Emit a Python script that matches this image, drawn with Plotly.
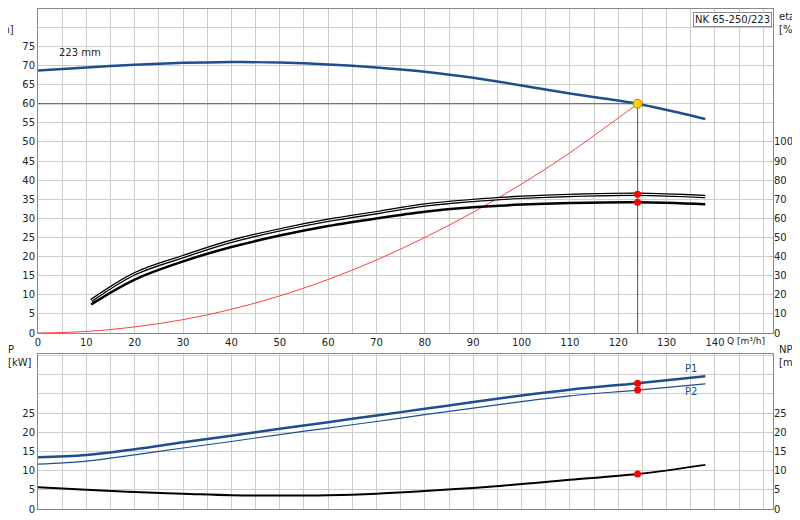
import plotly.graph_objects as go

# head curve, 223 mm impeller
q_h = [0, 10, 20, 30, 40, 50, 60, 70, 80, 90, 100, 110, 117, 124, 131, 138]
h = [68.7, 69.5, 70.2, 70.7, 70.9, 70.8, 70.3, 69.5, 68.4, 66.8, 64.8, 62.7, 61.4, 60.0, 58.1, 56.0]

# system curve (red)
q_sys = [0, 10, 20, 30, 40, 50, 60, 70, 80, 90, 100, 110, 124]
h_sys = [0, 0.4, 1.6, 3.5, 6.2, 9.7, 14.0, 19.1, 25.0, 31.6, 39.0, 47.2, 60.0]

# efficiency curves [%]
q_eta = [11, 20, 30, 40, 50, 60, 70, 80, 90, 100, 110, 124, 138]
eta_1 = [17, 31, 40, 48, 54, 59, 63, 67, 69.4, 71, 72, 72.6, 71.4]
eta_2 = [15, 28, 37.5, 45, 51, 56, 60, 63.5, 65.8, 67.2, 68, 68.4, 67.4]

# power and NPSH
q_p = [0, 10, 20, 30, 40, 50, 60, 70, 80, 90, 100, 110, 124, 138]
p1 = [13.5, 14.1, 15.6, 17.4, 19.1, 20.9, 22.6, 24.4, 26.1, 27.9, 29.6, 31.1, 32.8, 34.6]
p2 = [11.7, 12.5, 14.1, 15.9, 17.6, 19.4, 21.1, 22.8, 24.6, 26.3, 28.0, 29.5, 31.0, 32.6]
npsh = [5.7, 5.0, 4.4, 4.0, 3.6, 3.5, 3.6, 4.0, 4.7, 5.5, 6.5, 7.6, 9.1, 11.5]

q_op = 124
blue = "#1f4e8c"
fig = go.Figure()

fig.add_trace(go.Scatter(x=[0, q_op, q_op], y=[60, 60, 0], mode="lines",
                         line=dict(color="#555", width=1), xaxis="x", yaxis="y"))
fig.add_trace(go.Scatter(x=q_sys, y=h_sys, mode="lines", line=dict(color="#ff4040", width=1, shape="spline"),
                         xaxis="x", yaxis="y"))
fig.add_trace(go.Scatter(x=q_h, y=h, mode="lines", line=dict(color=blue, width=2.5, shape="spline", smoothing=0.6),
                         xaxis="x", yaxis="y"))
fig.add_trace(go.Scatter(x=q_eta, y=eta_1, mode="lines", line=dict(color="black", width=3.5, shape="spline"),
                         xaxis="x", yaxis="y2"))
fig.add_trace(go.Scatter(x=q_eta, y=eta_1, mode="lines", line=dict(color="white", width=1, shape="spline"),
                         xaxis="x", yaxis="y2"))
fig.add_trace(go.Scatter(x=q_eta, y=eta_2, mode="lines", line=dict(color="black", width=2.5, shape="spline"),
                         xaxis="x", yaxis="y2"))
fig.add_trace(go.Scatter(x=[q_op], y=[60], mode="markers",
                         marker=dict(color="#ffd700", size=9, line=dict(color="#b08000", width=1)),
                         xaxis="x", yaxis="y"))
fig.add_trace(go.Scatter(x=[q_op, q_op], y=[eta_1[-2], eta_2[-2]], mode="markers",
                         marker=dict(color="red", size=7), xaxis="x", yaxis="y2"))

fig.add_trace(go.Scatter(x=q_p, y=p1, mode="lines", line=dict(color=blue, width=2.5, shape="spline"),
                         xaxis="x2", yaxis="y3"))
fig.add_trace(go.Scatter(x=q_p, y=p2, mode="lines", line=dict(color=blue, width=1.2, shape="spline"),
                         xaxis="x2", yaxis="y3"))
fig.add_trace(go.Scatter(x=q_p, y=npsh, mode="lines", line=dict(color="black", width=2, shape="spline"),
                         xaxis="x2", yaxis="y3"))
fig.add_trace(go.Scatter(x=[q_op] * 3, y=[p1[-2], p2[-2], npsh[-2]], mode="markers",
                         marker=dict(color="red", size=7), xaxis="x2", yaxis="y3"))
fig.add_trace(go.Scatter(x=[0], y=[0], xaxis="x2", yaxis="y4", mode="markers", marker=dict(opacity=0)))

minor = dict(dtick=5, showgrid=True, gridcolor="#cccccc")
grid = dict(showgrid=True, gridcolor="#cccccc", gridwidth=1, zeroline=False, showline=True,
            linecolor="#888", mirror=True, ticks="", automargin=False, tickfont=dict(size=10, color="#222"))
side = dict(showgrid=False, zeroline=False, automargin=False, tickfont=dict(size=10, color="#222"))
xr = [0, 152]
fig.update_layout(
    width=800, height=520, margin=dict(l=30, r=35, t=1, b=19),
    plot_bgcolor="white", paper_bgcolor="white", showlegend=False,
    font=dict(family="DejaVu Sans", size=10),
    xaxis=dict(grid, range=xr, tickvals=list(range(0, 141, 10)), anchor="y", minor=minor),
    yaxis=dict(grid, range=[0, 84.8], tickvals=list(range(0, 76, 5)), domain=[0.352, 1], minor=minor),
    yaxis2=dict(side, range=[0, 169.6], overlaying="y", side="right", tickvals=list(range(0, 101, 10))),
    xaxis2=dict(grid, range=xr, anchor="y3", showticklabels=False, tickvals=list(range(0, 151, 10)), minor=minor),
    yaxis3=dict(grid, range=[0, 40.4], tickvals=list(range(0, 41, 5)), ticktext=[str(v) if v <= 25 else "" for v in range(0, 41, 5)], domain=[0, 0.31]),
    yaxis4=dict(side, range=[0, 40.4], overlaying="y3", side="right", tickvals=list(range(0, 26, 5))),
)

ann = [
    dict(x=-0.03, y=1.0, text="H<br>[m]", xanchor="right", yanchor="top"),
    dict(x=1.005, y=1.0, text="eta<br>[%]", xanchor="left", yanchor="top"),
    dict(x=-0.005, y=0.335, text="P<br>[kW]", xanchor="right", yanchor="top"),
    dict(x=1.005, y=0.335, text="NPSH<br>[m]", xanchor="left", yanchor="top"),
]
for a in ann:
    fig.add_annotation(xref="paper", yref="paper", showarrow=False, align="left",
                       font=dict(size=10, color="#222"), **a)
fig.add_annotation(x=142, y=0, xref="x", yref="y", text="Q [m³/h]", showarrow=False,
                   xanchor="left", yanchor="top", yshift=-1, font=dict(size=9, color="#222"))
fig.add_annotation(x=4, y=71.5, xref="x", yref="y", text="223 mm", showarrow=False,
                   xanchor="left", yanchor="bottom", font=dict(size=10, color="#222"))
fig.add_annotation(x=0.999, y=0.995, xref="paper", yref="paper", text="NK 65-250/223", showarrow=False,
                   xanchor="right", yanchor="top", bgcolor="white", bordercolor="#888", borderwidth=1,
                   font=dict(size=10, color="#222"))
fig.add_annotation(x=135, y=p1[-1], xref="x2", yref="y3", text="P1", showarrow=False,
                   yanchor="bottom", font=dict(size=10, color=blue))
fig.add_annotation(x=135, y=p2[-1], xref="x2", yref="y3", text="P2", showarrow=False,
                   yanchor="top", font=dict(size=10, color=blue))

fig.write_html("out.html")
